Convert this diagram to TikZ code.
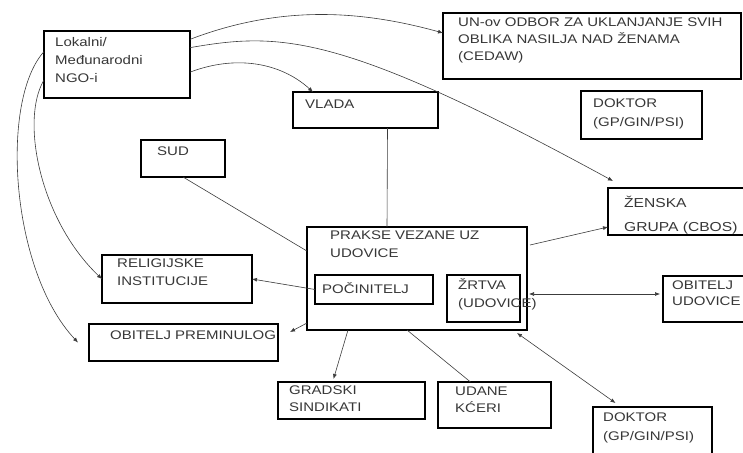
\documentclass[tikz,border=0pt]{standalone}
\usepackage{fontspec}
\setmainfont{Liberation Sans}[FakeStretch=1.2]
\usepackage{tikz}
\usetikzlibrary{arrows.meta,calc}
\definecolor{txtgray}{RGB}{55,55,55}
\definecolor{lngray}{RGB}{60,60,60}

\begin{document}
\begin{tikzpicture}[x=1pt, y=-1pt,
    box/.style={draw, line width=1.1pt, anchor=north west, inner sep=0, outer sep=0},
    txt/.style={anchor=north west, inner sep=0, align=left, text=txtgray,
      font=\fontsize{12.5}{18}\selectfont},
    link/.style={draw=lngray, line width=0.6pt},
    arr/.style={link, -{Latex[length=5pt,width=4pt]}},
    darr/.style={link, {Latex[length=5pt,width=4pt]}-{Latex[length=5pt,width=4pt]}}]
  \useasboundingbox (0,0) rectangle (743,452);
  % boxes
  \node[box, minimum width=146pt, minimum height=67pt] (ngo) at (44,31) {};
  \node[box, minimum width=298pt, minimum height=66pt] (un) at (443,13) {};
  \node[box, minimum width=145pt, minimum height=36pt] (vlada) at (293,92) {};
  \node[box, minimum width=121pt, minimum height=48pt] (dok1) at (581,91) {};
  \node[box, minimum width=84pt, minimum height=37pt] (sud) at (141,140) {};
  \node[box, minimum width=200pt, minimum height=47pt] (zenska) at (608,188) {};
  \node[box, minimum width=220pt, minimum height=103pt] (prakse) at (307,227) {};
  \node[box, minimum width=118pt, minimum height=29pt] (pocin) at (315,275) {};
  \node[box, minimum width=73pt, minimum height=47pt] (zrtva) at (447,275) {};
  \node[box, minimum width=150pt, minimum height=46pt] (obud) at (663,276) {};
  \node[box, minimum width=150pt, minimum height=48pt] (relig) at (102,255) {};
  \node[box, minimum width=189pt, minimum height=37pt] (obpre) at (89,324) {};
  \node[box, minimum width=147pt, minimum height=37pt] (grad) at (278,382) {};
  \node[box, minimum width=113pt, minimum height=46pt] (udane) at (438,382) {};
  \node[box, minimum width=119pt, minimum height=60pt] (dok2) at (593,407) {};
  % texts
  \node[txt, font=\fontsize{12.5}{18}\selectfont] (ngo-t) at ($(ngo.north west)+(11,6)$) {Lokalni/\\Međunarodni\\NGO-i};
  \node[txt, font=\fontsize{12.5}{17}\selectfont] (un-t) at ($(un.north west)+(15,5)$) {UN-ov ODBOR ZA UKLANJANJE SVIH\\OBLIKA NASILJA NAD ŽENAMA\\(CEDAW)};
  \node[txt] (vlada-t) at ($(vlada.north west)+(12,7.5)$) {VLADA};
  \node[txt, font=\fontsize{12.5}{19}\selectfont] (dok1-t) at ($(dok1.north west)+(12,7.5)$) {DOKTOR\\(GP/GIN/PSI)};
  \node[txt] (sud-t) at ($(sud.north west)+(16,6.5)$) {SUD};
  \node[txt, font=\fontsize{13}{24}\selectfont] (zenska-t) at ($(zenska.north west)+(16,8)$) {ŽENSKA\\GRUPA (CBOS)};
  \node[txt] (prakse-t) at ($(prakse.north west)+(23,3.5)$) {PRAKSE VEZANE UZ\\UDOVICE};
  \node[txt] (pocin-t) at ($(pocin.north west)+(7,7)$) {POČINITELJ};
  \node[txt] (zrtva-t) at ($(zrtva.north west)+(11,3)$) {ŽRTVA\\(UDOVICE)};
  \node[txt, font=\fontsize{12.5}{16}\selectfont] (obud-t) at ($(obud.north west)+(9,4.5)$) {OBITELJ\\UDOVICE};
  \node[txt] (relig-t) at ($(relig.north west)+(15,3.5)$) {RELIGIJSKE\\INSTITUCIJE};
  \node[txt] (obpre-t) at ($(obpre.north west)+(21,6.5)$) {OBITELJ PREMINULOG};
  \node[txt, font=\fontsize{12.5}{17}\selectfont] (grad-t) at ($(grad.north west)+(11,3.5)$) {GRADSKI\\SINDIKATI};
  \node[txt, font=\fontsize{12.5}{17}\selectfont] (udane-t) at ($(udane.north west)+(17,4.5)$) {UDANE\\KĆERI};
  \node[txt, font=\fontsize{12.5}{19}\selectfont] (dok2-t) at ($(dok2.north west)+(10,5.5)$) {DOKTOR\\(GP/GIN/PSI)};
  % connectors
  \draw[arr] (ngo.19) .. controls (280,5) and (360,10) .. (un.175);
  \draw[arr] (ngo.13) .. controls (280,32) and (340,32) .. ([xshift=5pt,yshift=7pt]zenska.north west);
  \draw[arr] (ngo.-6) .. controls (235,55) and (280,62) .. ([xshift=20pt]vlada.north west);
  \draw[arr] (ngo.170) .. controls (0,100) and (10,270) .. ([xshift=-11pt]obpre.west);
  \draw[arr] (ngo.192) .. controls (20,120) and (40,220) .. (relig.west);
  \draw[link] (sud.south) -- (prakse.166);
  \draw[link] ([xshift=22pt]vlada.south) -- ([xshift=-30pt]prakse.north);
  \draw[arr] ([xshift=3pt,yshift=33.5pt]prakse.east) -- ([yshift=-15.5pt]zenska.west);
  \draw[arr] (pocin.west) -- (relig.east);
  \draw[arr] ([yshift=7pt]prakse.south west) -- ([xshift=12pt,yshift=10.5pt]obpre.east);
  \draw[arr] ([xshift=-69pt]prakse.south) -- ([xshift=-18pt,yshift=3pt]grad.north);
  \draw[link] ([xshift=-24pt]udane.north) -- ([xshift=-10pt]prakse.south);
  \draw[darr] ([xshift=9pt,yshift=4.5pt]zrtva.east) -- ([xshift=-3pt,yshift=5pt]obud.west);
  \draw[darr] ([xshift=-10pt,yshift=-3pt]prakse.south east) -- ([xshift=-37pt,yshift=4pt]dok2.north);
\end{tikzpicture}
\end{document}
